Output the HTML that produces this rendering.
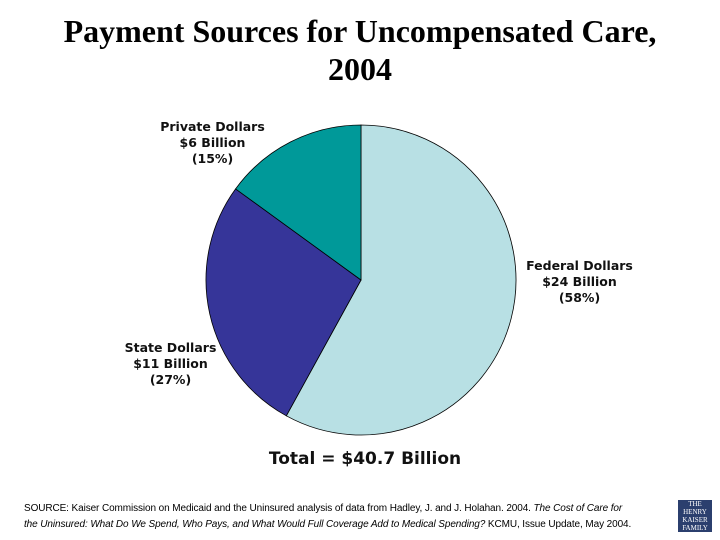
<!DOCTYPE html>
<html><head><meta charset="utf-8"><style>
body{margin:0;width:720px;height:540px;background:#fff;overflow:hidden;position:relative;font-family:"Liberation Sans",sans-serif}
.t{position:absolute;left:0;width:720px;top:12px;text-align:center;font-family:"Liberation Serif",serif;font-weight:bold;font-size:32px;line-height:38px;color:#000}
.lbl{position:absolute;text-align:center;font-family:"DejaVu Sans",sans-serif;font-weight:bold;font-size:12.5px;line-height:16px;color:#111}
.src{position:absolute;left:24px;top:501px;font-size:10px;line-height:16px;color:#000;letter-spacing:-0.1px}
</style></head><body>
<div class="t">Payment Sources for Uncompensated Care,<br>2004</div>
<svg id="pie" width="720" height="540" style="position:absolute;left:0;top:0"></svg>
<div class="lbl" style="left:140px;top:119px;width:145px">Private Dollars<br>$6 Billion<br>(15%)</div>
<div class="lbl" style="left:507px;top:258px;width:145px">Federal Dollars<br>$24 Billion<br>(58%)</div>
<div class="lbl" style="left:98px;top:340px;width:145px">State Dollars<br>$11 Billion<br>(27%)</div>
<div class="lbl" style="left:230px;top:449px;width:270px;font-size:17px;line-height:20px">Total = $40.7 Billion</div>
<div class="src">SOURCE: Kaiser Commission on Medicaid and the Uninsured analysis of data from Hadley, J. and J. Holahan. 2004. <i>The Cost of Care for<br>the Uninsured: What Do We Spend, Who Pays, and What Would Full Coverage Add to Medical Spending?</i> KCMU, Issue Update, May 2004.</div>
<div style="position:absolute;left:678px;top:500px;width:34px;height:32px;background:#2b3f6e;color:#fff;font-family:'Liberation Serif',serif;font-size:7px;line-height:8px;text-align:center">THE HENRY<br>KAISER<br>FAMILY<br>FOUNDATION</div>
<script>
const categories=["Federal Dollars","State Dollars","Private Dollars"];
const values=[58,27,15];
const colors=["#b8e0e4","#363599","#009999"];
const svg=document.getElementById('pie');
const cx=361,cy=280,r=155;
const total=values.reduce((a,b)=>a+b,0);
let a0=0;
values.forEach((v,i)=>{
  const a1=a0+v/total*2*Math.PI;
  const x0=cx+r*Math.sin(a0),y0=cy-r*Math.cos(a0),x1=cx+r*Math.sin(a1),y1=cy-r*Math.cos(a1);
  const p=document.createElementNS('http://www.w3.org/2000/svg','path');
  p.setAttribute('d',`M${cx},${cy}L${x0},${y0}A${r},${r} 0 ${a1-a0>Math.PI?1:0} 1 ${x1},${y1}Z`);
  p.setAttribute('fill',colors[i]);p.setAttribute('stroke','#000');p.setAttribute('stroke-width','0.8');
  
  
  svg.appendChild(p);a0=a1;
});
</script>
</body></html>
